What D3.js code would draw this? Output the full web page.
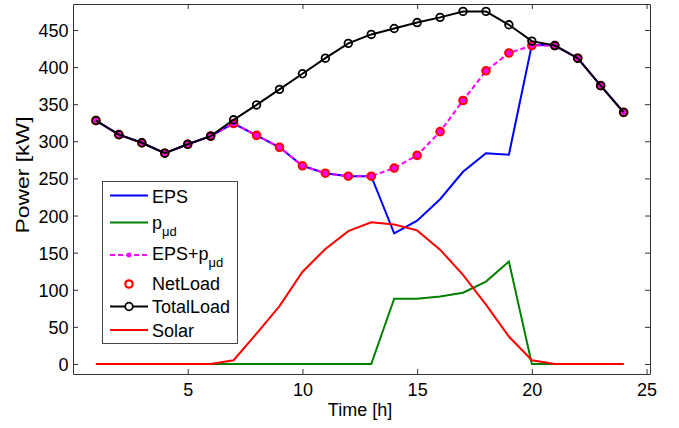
<!DOCTYPE html>
<html><head><meta charset="utf-8">
<script src="https://cdn.jsdelivr.net/npm/d3@7"></script>
<style>
html,body{margin:0;padding:0;background:#fff;}
svg{display:block;font-family:"Liberation Sans",Arial,Helvetica,sans-serif;}
</style></head><body>
<svg id="chart" width="679" height="428"></svg>
<script>
// ---- data ----
const hours     = [1,2,3,4,5,6,7,8,9,10,11,12,13,14,15,16,17,18,19,20,21,22,23,24];
const eps       = [328,309,298,284,296,307,324,308,292,267,257,253,253,176,193,222,259,284,282,430,429,412,375,339];
const pud       = [0,0,0,0,0,0,0,0,0,0,0,0,0,88,88,91,96,111,138,0,0,0,0,0];
const epsPud    = [328,309,298,284,296,307,324,308,292,267,257,253,253,264,281,313,355,395,419,429,429,412,375,339];
const netLoad   = [328,309,298,284,296,307,324,308,292,267,257,253,253,264,281,313,355,395,419,429,429,412,375,339];
const totalLoad = [328,309,298,284,296,307,329,349,370,391,412,432,444,452,460,467,475,475,457,435,429,412,375,339];
const solar     = [0,0,0,0,0,0,5,41,78,124,155,179,191,188,180,154,120,80,37,5,0,0,0,0];
const xTicks = [5,10,15,20,25];
const yTicks = [0,50,100,150,200,250,300,350,400,450];
const legendLabels = ["EPS","p","EPS+p","NetLoad","TotalLoad","Solar"];

// ---- layout ----
const W = 679, H = 428;
const x = d3.scaleLinear().domain([0, 25.15]).range([73, 650]);
const y = d3.scaleLinear().domain([-13.5, 485]).range([374, 4]);
const axisColor = "#333";
const FS = 18;

const svg = d3.select("#chart");
svg.append("rect").attr("width", W).attr("height", H).attr("fill", "#fff");

function styleAxis(g) {
  g.select(".domain").attr("stroke", axisColor);
  g.selectAll(".tick line").attr("stroke", axisColor);
  g.selectAll(".tick text").attr("fill", "#000").style("font-size", FS + "px")
    .style("font-family", '"Liberation Sans",Arial,Helvetica,sans-serif');
}

const gB = svg.append("g").attr("transform", `translate(0,${y.range()[0]})`)
  .call(d3.axisBottom(x).tickValues(xTicks).tickSizeInner(-5).tickSizeOuter(0).tickPadding(9));
styleAxis(gB);
const gT = svg.append("g").attr("transform", `translate(0,${y.range()[1]})`)
  .call(d3.axisTop(x).tickValues(xTicks).tickSizeInner(-5).tickSizeOuter(0).tickFormat(""));
styleAxis(gT);
const gL = svg.append("g").attr("transform", `translate(${x.range()[0]},0)`)
  .call(d3.axisLeft(y).tickValues(yTicks).tickSizeInner(-5).tickSizeOuter(0).tickPadding(4.5));
styleAxis(gL);
gL.selectAll(".tick text").attr("dy", "0.36em");
const gR = svg.append("g").attr("transform", `translate(${x.range()[1]},0)`)
  .call(d3.axisRight(y).tickValues(yTicks).tickSizeInner(-5).tickSizeOuter(0).tickFormat(""));
styleAxis(gR);

// axis labels
svg.append("text").attr("x", 360).attr("y", 415.5).attr("text-anchor", "middle")
  .style("font-size", FS + "px").text("Time [h]");
svg.append("text").attr("transform", "translate(28.5,175) rotate(-90)")
  .attr("text-anchor", "middle").style("font-size", "18.5px")
  .attr("textLength", 117).attr("lengthAdjust", "spacingAndGlyphs")
  .text("Power [kW]");

// ---- series ----
const line = d3.line().x((d, i) => x(hours[i])).y(d => y(d));
const plot = svg.append("g");

function starPath(cx, cy, r) {
  const a = r * 0.7071;
  return `M${cx - r},${cy}H${cx + r}M${cx},${cy - r}V${cy + r}` +
         `M${cx - a},${cy - a}L${cx + a},${cy + a}M${cx - a},${cy + a}L${cx + a},${cy - a}`;
}

plot.append("path").datum(eps).attr("d", line).attr("fill", "none")
  .attr("stroke", "#0000ff").attr("stroke-width", 2);
plot.append("path").datum(pud).attr("d", line).attr("fill", "none")
  .attr("stroke", "#008000").attr("stroke-width", 2);
plot.append("path").datum(epsPud).attr("d", line).attr("fill", "none")
  .attr("stroke", "#ff00ff").attr("stroke-width", 2).attr("stroke-dasharray", "5,3");
plot.selectAll(".star").data(epsPud).join("path").attr("class", "star")
  .attr("d", (d, i) => starPath(x(hours[i]), y(d), 3))
  .attr("stroke", "#ff00ff").attr("stroke-width", 2).attr("fill", "none");
plot.selectAll(".net").data(netLoad).join("circle").attr("class", "net")
  .attr("cx", (d, i) => x(hours[i])).attr("cy", d => y(d)).attr("r", 3.7)
  .attr("fill", "none").attr("stroke", "#ff0000").attr("stroke-width", 2.2);
plot.append("path").datum(totalLoad).attr("d", line).attr("fill", "none")
  .attr("stroke", "#000").attr("stroke-width", 2);
plot.selectAll(".tot").data(totalLoad).join("circle").attr("class", "tot")
  .attr("cx", (d, i) => x(hours[i])).attr("cy", d => y(d)).attr("r", 3.8)
  .attr("fill", "none").attr("stroke", "#000").attr("stroke-width", 1.8);
plot.append("path").datum(solar).attr("d", line).attr("fill", "none")
  .attr("stroke", "#ff0000").attr("stroke-width", 2);

// ---- legend ----
const lg = svg.append("g");
lg.append("rect").attr("x", 102.5).attr("y", 181.5).attr("width", 135).attr("height", 162)
  .attr("fill", "#fff").attr("stroke", "#444").attr("stroke-width", 1);
const lx0 = 110, lx1 = 148, lxm = 129, tx = 152;
const rows = [
  {ly: 195.5, ty: 202.5},
  {ly: 222.5, ty: 228.5},
  {ly: 255,   ty: 260},
  {ly: 284,   ty: 290},
  {ly: 306.5, ty: 313},
  {ly: 330,   ty: 336.5}
];
// EPS
lg.append("line").attr("x1", lx0).attr("x2", lx1).attr("y1", rows[0].ly).attr("y2", rows[0].ly)
  .attr("stroke", "#0000ff").attr("stroke-width", 2);
// pud
lg.append("line").attr("x1", lx0).attr("x2", lx1).attr("y1", rows[1].ly).attr("y2", rows[1].ly)
  .attr("stroke", "#008000").attr("stroke-width", 2);
// EPS+pud
lg.append("line").attr("x1", lx0).attr("x2", lx1).attr("y1", rows[2].ly).attr("y2", rows[2].ly)
  .attr("stroke", "#ff00ff").attr("stroke-width", 2).attr("stroke-dasharray", "5,3");
lg.append("path").attr("d", starPath(lxm, rows[2].ly, 2.5)).attr("stroke", "#ff00ff").attr("stroke-width", 1.5);
// NetLoad
lg.append("circle").attr("cx", lxm).attr("cy", rows[3].ly).attr("r", 3.7)
  .attr("fill", "none").attr("stroke", "#ff0000").attr("stroke-width", 2.2);
// TotalLoad
lg.append("line").attr("x1", lx0).attr("x2", lx1).attr("y1", rows[4].ly).attr("y2", rows[4].ly)
  .attr("stroke", "#000").attr("stroke-width", 2);
lg.append("circle").attr("cx", lxm).attr("cy", rows[4].ly).attr("r", 3.8)
  .attr("fill", "#fff").attr("stroke", "#000").attr("stroke-width", 1.8);
// Solar
lg.append("line").attr("x1", lx0).attr("x2", lx1).attr("y1", rows[5].ly).attr("y2", rows[5].ly)
  .attr("stroke", "#ff0000").attr("stroke-width", 2);

legendLabels.forEach((lab, i) => {
  const t = lg.append("text").attr("x", tx).attr("y", rows[i].ty).style("font-size", FS + "px").text(lab);
  if (i === 1 || i === 2) {
    t.append("tspan").attr("dy", 7).style("font-size", "13px").text("μd");
  }
});
</script>
</body></html>
